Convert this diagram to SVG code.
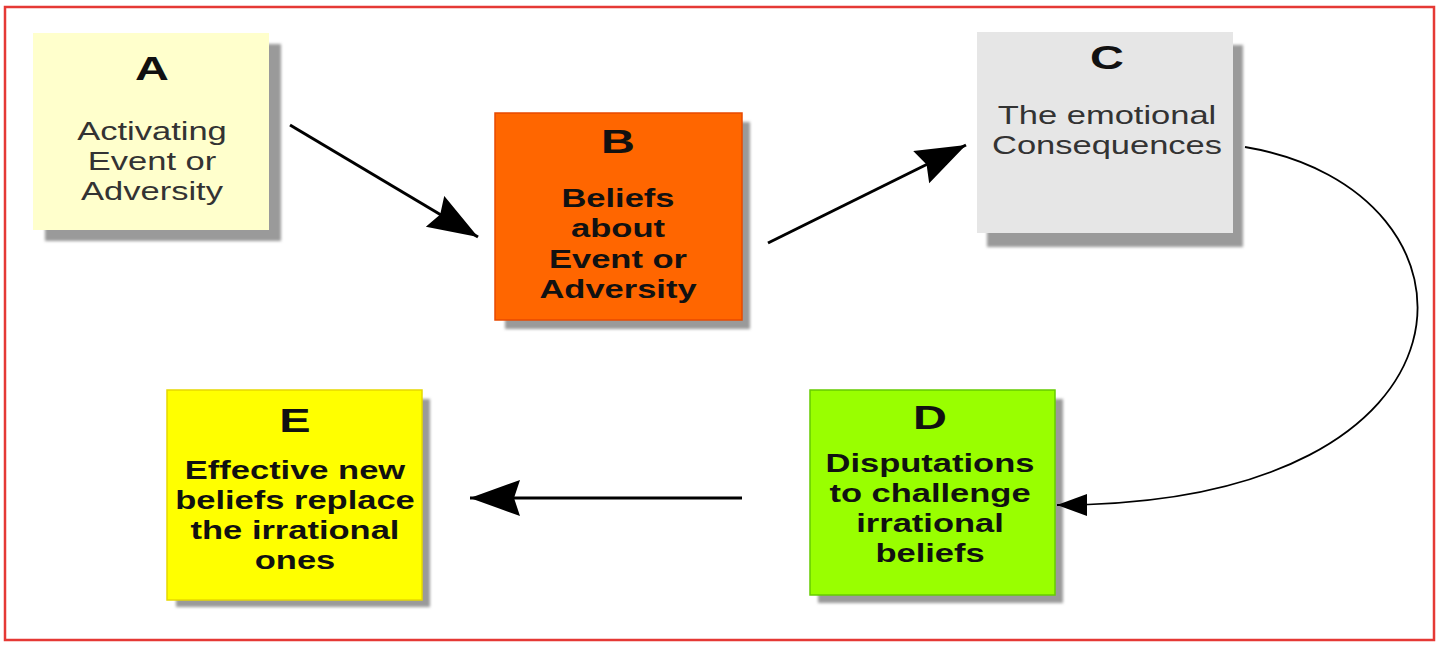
<svg xmlns="http://www.w3.org/2000/svg" width="1440" height="648" viewBox="0 0 1440 648">
<style>
.t{font-family:"Liberation Sans",Arial,sans-serif;text-anchor:middle}
.ltr{font-size:34px;font-weight:bold;fill:#111}
.body{font-size:25px;fill:#333}
.bold{font-size:25px;font-weight:bold;fill:#111}
.shadow{fill:#9a9a9a;filter:url(#blur)}
.conn{stroke:#000;fill:none}
</style>
<defs>
<filter id="blur" x="-10%" y="-10%" width="120%" height="120%"><feGaussianBlur stdDeviation="1.5"/></filter>
<marker id="big" markerUnits="userSpaceOnUse" markerWidth="52" markerHeight="38" refX="50" refY="18" orient="auto">
<path d="M0,0 L50,18 L0,36 L6,18 z" fill="#000"/>
</marker>
<marker id="small" markerUnits="userSpaceOnUse" markerWidth="32" markerHeight="24" refX="30" refY="11" orient="auto">
<path d="M0,0 L30,11 L0,22 z" fill="#000"/>
</marker>
</defs>
<rect x="0" y="0" width="1440" height="648" fill="#fff"/>
<rect x="5" y="7" width="1429" height="633" fill="none" stroke="#e53935" stroke-width="2.5"/>

<g id="nodeA">
<rect class="shadow" x="45" y="44" width="236" height="197"/>
<rect x="33" y="33" width="236" height="197" fill="#ffffcc"/>
<g transform="translate(152,0) scale(1.38,1)">
<text class="t ltr" x="0" y="80">A</text>
<text class="t body" x="0" y="140">Activating</text>
<text class="t body" x="0" y="170">Event or</text>
<text class="t body" x="0" y="200">Adversity</text>
</g>
</g>

<g id="nodeB">
<rect class="shadow" x="505" y="122" width="245" height="207"/>
<rect x="495" y="113" width="247" height="207" fill="#ff6600" stroke="#e84a00" stroke-width="1.5"/>
<g transform="translate(618,0) scale(1.38,1)">
<text class="t ltr" x="0" y="153">B</text>
<text class="t bold" x="0" y="207">Beliefs</text>
<text class="t bold" x="0" y="237">about</text>
<text class="t bold" x="0" y="268">Event or</text>
<text class="t bold" x="0" y="298">Adversity</text>
</g>
</g>

<g id="nodeC">
<rect class="shadow" x="987" y="45" width="256" height="202"/>
<rect x="977" y="32" width="256" height="201" fill="#e6e6e6"/>
<g transform="translate(1107,0) scale(1.38,1)">
<text class="t ltr" x="0" y="69">C</text>
<text class="t body" x="0" y="124">The emotional</text>
<text class="t body" x="0" y="154">Consequences</text>
</g>
</g>

<g id="nodeD">
<rect class="shadow" x="818" y="399" width="245" height="204"/>
<rect x="810" y="390" width="245" height="205" fill="#99ff00" stroke="#66cc00" stroke-width="1.5"/>
<g transform="translate(930,0) scale(1.38,1)">
<text class="t ltr" x="0" y="429">D</text>
<text class="t bold" x="0" y="472">Disputations</text>
<text class="t bold" x="0" y="502">to challenge</text>
<text class="t bold" x="0" y="532">irrational</text>
<text class="t bold" x="0" y="562">beliefs</text>
</g>
</g>

<g id="nodeE">
<rect class="shadow" x="176" y="399" width="254" height="208"/>
<rect x="167" y="390" width="255" height="210" fill="#ffff00" stroke="#e6d800" stroke-width="1.5"/>
<g transform="translate(295,0) scale(1.38,1)">
<text class="t ltr" x="0" y="432">E</text>
<text class="t bold" x="0" y="479">Effective new</text>
<text class="t bold" x="0" y="509">beliefs replace</text>
<text class="t bold" x="0" y="539">the irrational</text>
<text class="t bold" x="0" y="569">ones</text>
</g>
</g>

<g id="connectors">
<line class="conn" x1="290" y1="125" x2="478" y2="237" stroke-width="3" marker-end="url(#big)"/>
<line class="conn" x1="768" y1="243" x2="966" y2="145" stroke-width="3" marker-end="url(#big)"/>
<path class="conn" d="M1245,147 C1500,190 1500,505 1057,505" stroke-width="1.8" marker-end="url(#small)"/>
<line class="conn" x1="742" y1="498" x2="470" y2="498" stroke-width="3" marker-end="url(#big)"/>
</g>
</svg>
